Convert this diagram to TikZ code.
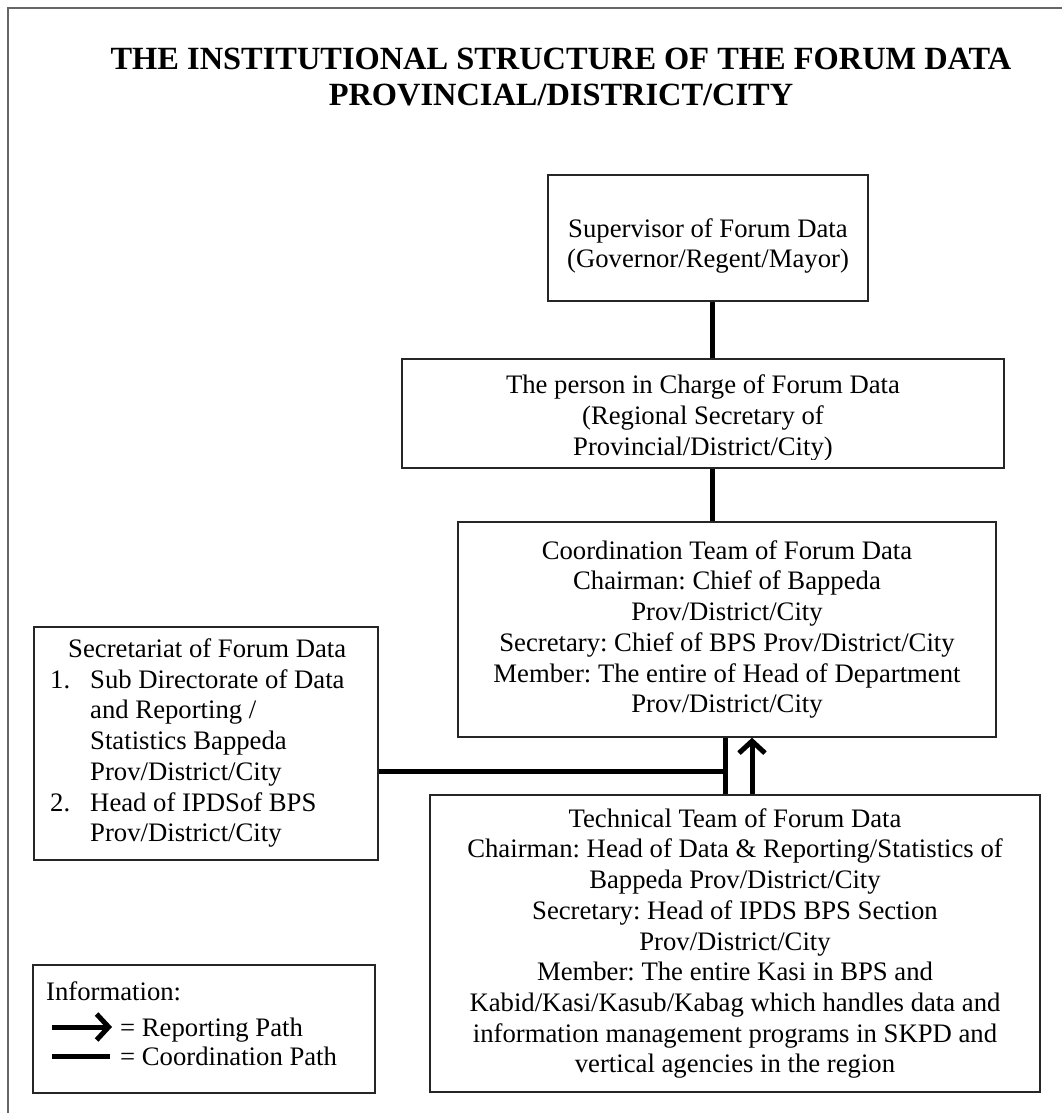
\documentclass[tikz,border=0pt]{standalone}
\usepackage{fontspec}
\setmainfont{Liberation Serif}
\usetikzlibrary{arrows.meta,calc}
\newcommand\bodyfont{\fontsize{26.7}{30.7}\selectfont\frenchspacing}
\newcommand\titlefont{\fontsize{32.4}{36}\selectfont\bfseries}
\begin{document}
\begin{tikzpicture}[x=1pt,y=-1pt,
  box/.style={draw=black!85, line width=1.4pt, align=center, inner sep=0pt, font=\bodyfont},
  txt/.style={inner sep=0pt, font=\bodyfont},
  cline/.style={line width=5pt},
  rarrow/.style={line width=5pt, -{Straight Barb[length=12pt,width=26pt,line width=5pt]}},
  frame/.style={draw=black!60, line width=1.5pt}]
\useasboundingbox (0,0) rectangle (1062,1113);
% outer frame (top and left)
\coordinate (frTL) at (8,8);
\coordinate (frTR) at (1062,8);
\coordinate (frBL) at (8,1113);
\draw[frame] (frTR) -- (frTL) -- (frBL);
% title
\node[inner sep=0pt, font=\titlefont, anchor=base] (title1) at (561,70)
  {THE INSTITUTIONAL STRUCTURE OF THE FORUM DATA};
\node[inner sep=0pt, font=\titlefont, anchor=base] (title2) at (561,106)
  {PROVINCIAL/DISTRICT/CITY};
% boxes
\node[box, minimum width=320pt, minimum height=126pt] (sup) at (708,238) {};
\node[txt, align=center] (supt) at (708,246) {Supervisor of Forum Data\\(Governor/Regent/Mayor)};
\node[box, minimum width=602pt, minimum height=109pt] (per) at (703,413.5) {};
\begin{scope}
  \clip (per.north west) rectangle ([yshift=9pt]per.south east);
  \node[txt, align=center] (pert) at (703,418)
    {The person in Charge of Forum Data\\(Regional Secretary of\\Provincial/District/City)};
\end{scope}
\node[box, minimum width=538pt, minimum height=215pt] (coo) at (727,629.5)
  {Coordination Team of Forum Data\\Chairman: Chief of Bappeda\\Prov/District/City\\Secretary: Chief of BPS Prov/District/City\\Member: The entire of Head of Department\\Prov/District/City};
\node[box, minimum width=344pt, minimum height=233pt] (sec) at (206,743.5) {};
\node[txt, anchor=west] (sect) at (50,743.5)
  {\begin{tabular}{@{}l@{\hspace{20pt}}l@{}}
   \multicolumn{2}{@{}l@{}}{\hspace{18pt}Secretariat of Forum Data}\\
   1. & Sub Directorate of Data\\
      & and Reporting /\\
      & Statistics Bappeda\\
      & Prov/District/City\\
   2. & Head of IPDSof BPS\\
      & Prov/District/City
   \end{tabular}};
\node[box, minimum width=610pt, minimum height=297pt] (tec) at (735,943.5)
  {Technical Team of Forum Data\\Chairman: Head of Data \& Reporting/Statistics of\\Bappeda Prov/District/City\\Secretary: Head of IPDS BPS Section\\Prov/District/City\\Member: The entire Kasi in BPS and\\Kabid/Kasi/Kasub/Kabag which handles data and\\information management programs in SKPD and\\vertical agencies in the region};
\node[box, minimum width=342pt, minimum height=128pt] (leg) at (204,1029) {};
% legend contents
\node[txt, anchor=base west] (info) at (46,1000) {Information:};
\coordinate (la1) at (52,1027);
\coordinate (la2) at (112,1027);
\coordinate (lc1) at (52,1056);
\coordinate (lc2) at (110,1056);
\draw[rarrow] (la1) -- (la2);
\draw[cline] (lc1) -- (lc2);
\node[txt, anchor=base west] (lrep) at (120,1036) {= Reporting Path};
\node[txt, anchor=base west] (lcoo) at (120,1065) {= Coordination Path};
% connectors
\coordinate (vx) at (712,0);
\coordinate (bx) at (725,0);
\coordinate (ax) at (752,0);
\coordinate (hy) at (0,771);
\draw[cline] (sup.south -| vx) -- (per.north -| vx);
\draw[cline] (per.south -| vx) -- (coo.north -| vx);
\draw[cline] (coo.south -| bx) -- (tec.north -| bx);
\draw[cline] (sec.east |- hy) -- (bx |- hy);
\draw[rarrow] (tec.north -| ax) -- (coo.south -| ax);
\end{tikzpicture}
\end{document}
